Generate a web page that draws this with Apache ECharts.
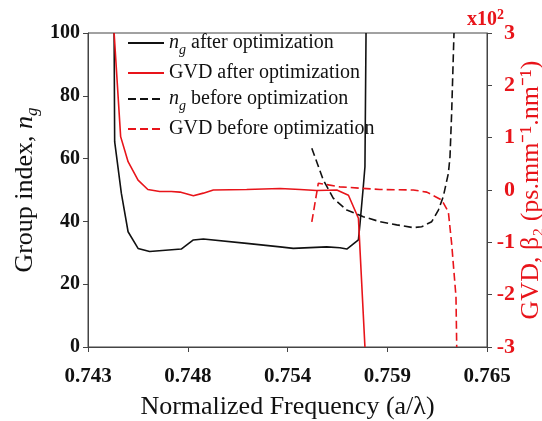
<!DOCTYPE html>
<html>
<head>
<meta charset="utf-8">
<script src="https://cdn.jsdelivr.net/npm/echarts@6/dist/echarts.min.js"></script>
<style>
  html, body { margin: 0; padding: 0; background: #fff; }
  #chart { width: 542px; height: 421px; }
</style>
</head>
<body>
<div id="chart"></div>
<script>
// x tick labels (evenly spaced on the figure, step 0.0055)
var tickLabels = ['0.743', '0.748', '0.754', '0.759', '0.765'];
var X0 = 0.743, XSTEP = 0.0055;

// n_g after optimization
var freqNgAfter = [0.74444, 0.74447, 0.74484, 0.74521, 0.74576, 0.74640, 0.74814, 0.74881, 0.74936,
  0.75175, 0.75359, 0.75432, 0.75616, 0.75689, 0.75727, 0.75791, 0.75800, 0.75818, 0.75827, 0.75833];
var ngAfter = [100, 65.4, 48.9, 36.7, 31.4, 30.4, 31.2, 34.1, 34.4,
  33.0, 31.9, 31.4, 31.9, 31.6, 31.2, 34.1, 39.4, 51.1, 57.4, 100];

// GVD after optimization (x10^2)
var freqGvdAfter = [0.74444, 0.74480, 0.74521, 0.74576, 0.74630, 0.74695, 0.74759, 0.74807, 0.74881,
  0.74936, 0.74991, 0.75175, 0.75359, 0.75469, 0.75560, 0.75672, 0.75736, 0.75791, 0.75827];
var gvdAfter = [3.0, 1.02, 0.54, 0.19, 0.01, -0.03, -0.03, -0.04, -0.11,
  -0.06, 0.0, 0.01, 0.03, 0.01, -0.01, 0.0, -0.10, -0.54, -3.0];

// n_g before optimization
var freqNgBefore = [0.75534, 0.75597, 0.75652, 0.75727, 0.75818, 0.75910, 0.76002, 0.76094,
  0.76140, 0.76195, 0.76232, 0.76259, 0.76287, 0.76296, 0.76305, 0.76318];
var ngBefore = [63.3, 53.2, 47.4, 43.6, 41.5, 39.9, 38.9, 38.0,
  38.3, 39.9, 43.6, 47.9, 55.3, 60.6, 74.4, 100];

// GVD before optimization (x10^2)
var freqGvdBefore = [0.75534, 0.75570, 0.75689, 0.75910, 0.76094, 0.76168, 0.76250, 0.76287,
  0.76305, 0.76329, 0.76333];
var gvdBefore = [-0.61, 0.13, 0.06, 0.01, 0.0, -0.04, -0.19, -0.42, -1.02, -2.04, -3.0];

var RED = '#e8141a';
var FONT = 'Liberation Serif';

function pairs(xs, ys) {
  return xs.map(function (f, i) { return [(f - X0) / XSTEP, ys[i]]; });
}

var chart = echarts.init(document.getElementById('chart'));

var subRich = {
  t: { fontSize: 20, lineHeight: 28, fontFamily: FONT, color: '#111' },
  i: { fontSize: 20, lineHeight: 28, fontFamily: FONT, fontStyle: 'italic', color: '#111' },
  s: { fontSize: 14, lineHeight: 14, fontFamily: FONT, fontStyle: 'italic', verticalAlign: 'bottom', color: '#111' }
};

var option = {
  animation: false,
  grid: {
    left: 88, right: 55, top: 33, bottom: 74,
    outerBoundsMode: 'none',
    show: true, borderColor: '#444', borderWidth: 1
  },
  legend: {
    orient: 'vertical',
    left: 127,
    top: 33,
    padding: 0,
    itemGap: 6,
    itemWidth: 36,
    itemHeight: 14,
    itemStyle: { opacity: 0 },
    data: ['ngAfter', 'gvdAfter', 'ngBefore', 'gvdBefore'],
    formatter: function (name) {
      if (name === 'ngAfter') return '{i|n}{s|g}{t| after optimization}';
      if (name === 'gvdAfter') return '{t|GVD after optimization}';
      if (name === 'ngBefore') return '{i|n}{s|g}{t| before optimization}';
      return '{t|GVD before optimization}';
    },
    textStyle: { rich: subRich }
  },
  xAxis: {
    type: 'value',
    min: 0,
    max: 4,
    interval: 1,
    name: 'Normalized Frequency (a/λ)',
    nameLocation: 'middle',
    nameGap: 47,
    nameTextStyle: { fontFamily: FONT, fontSize: 26, color: '#111' },
    axisLine: { lineStyle: { color: '#444' } },
    axisTick: { length: 5, lineStyle: { color: '#444' } },
    splitLine: { show: false },
    axisLabel: {
      margin: 19,
      fontFamily: FONT,
      fontSize: 21,
      fontWeight: 'bold',
      color: '#111',
      formatter: function (v) { return tickLabels[Math.round(v)]; }
    }
  },
  yAxis: [
    {
      type: 'value',
      min: 0,
      max: 100,
      interval: 20,
      position: 'left',
      name: '{t|Group index, }{i|n}{s|g}',
      nameLocation: 'middle',
      nameGap: 47,
      nameRotate: 90,
      nameMoveOverlap: false,
      nameTextStyle: {
        rich: {
          t: { fontSize: 26, lineHeight: 32, fontFamily: FONT, color: '#111' },
          i: { fontSize: 26, lineHeight: 32, fontFamily: FONT, fontStyle: 'italic', color: '#111' },
          s: { fontSize: 17, lineHeight: 17, fontFamily: FONT, fontStyle: 'italic', verticalAlign: 'bottom', color: '#111' }
        }
      },
      axisLine: { show: true, lineStyle: { color: '#444' } },
      axisTick: { show: true, length: 5, lineStyle: { color: '#444' } },
      splitLine: { show: false },
      axisLabel: { margin: 8, fontFamily: FONT, fontSize: 20, fontWeight: 'bold', color: '#111' }
    },
    {
      type: 'value',
      min: -3,
      max: 3,
      interval: 1,
      position: 'right',
      name: 'GVD, β₂ (ps.mm⁻¹.nm⁻¹)',
      nameLocation: 'middle',
      nameGap: 31,
      nameRotate: 90,
      nameMoveOverlap: false,
      nameTextStyle: { fontFamily: FONT, fontSize: 26, color: RED },
      axisLine: { show: true, lineStyle: { color: '#444' } },
      axisTick: { show: true, length: 5, lineStyle: { color: '#444' } },
      splitLine: { show: false },
      axisLabel: { margin: 28, align: 'right', fontFamily: FONT, fontSize: 22, fontWeight: 'bold', color: RED }
    }
  ],
  graphic: [
    {
      type: 'text',
      left: 467,
      top: 8,
      style: {
        text: '{a|x10}{b|2}',
        rich: {
          a: { fontFamily: FONT, fontSize: 20, fontWeight: 'bold', fill: RED, lineHeight: 22, verticalAlign: 'bottom' },
          b: { fontFamily: FONT, fontSize: 14, fontWeight: 'bold', fill: RED, lineHeight: 22, verticalAlign: 'top' }
        }
      }
    }
  ],
  series: [
    {
      name: 'ngAfter', type: 'line', yAxisIndex: 0, symbol: 'none', showSymbol: false,
      lineStyle: { color: '#111', width: 1.6 }, itemStyle: { color: '#111' },
      data: pairs(freqNgAfter, ngAfter)
    },
    {
      name: 'gvdAfter', type: 'line', yAxisIndex: 1, symbol: 'none', showSymbol: false,
      lineStyle: { color: RED, width: 1.6 }, itemStyle: { color: RED },
      data: pairs(freqGvdAfter, gvdAfter)
    },
    {
      name: 'ngBefore', type: 'line', yAxisIndex: 0, symbol: 'none', showSymbol: false,
      lineStyle: { color: '#111', width: 1.6, type: [8, 4] }, itemStyle: { color: '#111' },
      data: pairs(freqNgBefore, ngBefore)
    },
    {
      name: 'gvdBefore', type: 'line', yAxisIndex: 1, symbol: 'none', showSymbol: false,
      lineStyle: { color: RED, width: 1.6, type: [8, 4] }, itemStyle: { color: RED },
      data: pairs(freqGvdBefore, gvdBefore)
    }
  ]
};

chart.setOption(option);
</script>
</body>
</html>
